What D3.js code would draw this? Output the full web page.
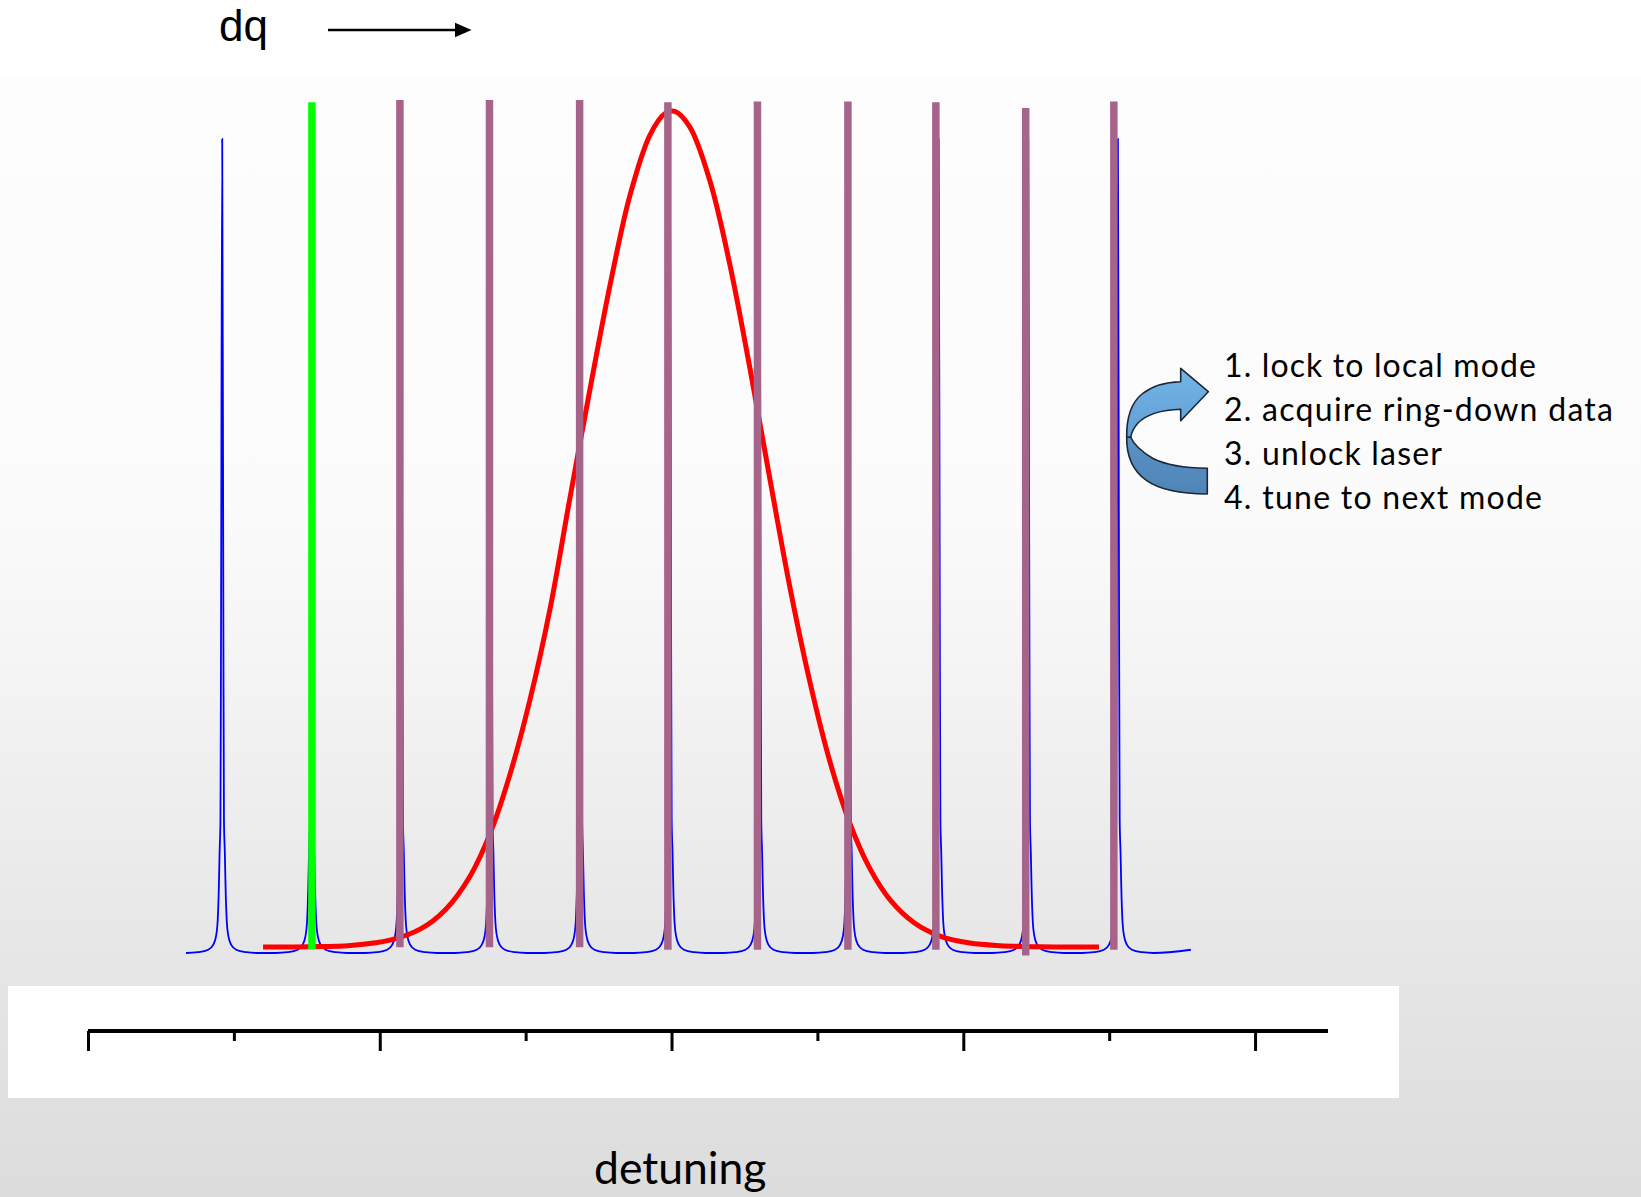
<!DOCTYPE html>
<html>
<head>
<meta charset="utf-8">
<script src="https://cdn.jsdelivr.net/npm/d3@7"></script>
<style>
  html, body { margin: 0; padding: 0; background: #ffffff; }
  svg { display: block; }
</style>
</head>
<body>
<script>
// ---- Cavity transmission comb (detuning units, peak height normalised to 1) ----
const modeCenters = [-3.08, -2.467, -1.853, -1.239, -0.625, -0.011, 0.603, 1.217, 1.831, 2.445, 3.06];
// One resonance line shape: offset from line centre and relative height
const profileOffsets = [-0.245, -0.165, -0.096, -0.062, -0.043, -0.031, -0.023, -0.018, -0.012, -0.008, 0,
                        0.008, 0.012, 0.018, 0.023, 0.031, 0.043, 0.062, 0.096, 0.165, 0.245];
const profileValues  = [0, 0.001, 0.004, 0.010, 0.020, 0.040, 0.081, 0.123, 0.163, 0.40, 1.0,
                        0.40, 0.163, 0.123, 0.081, 0.040, 0.020, 0.010, 0.004, 0.001, 0];
const traceStart = [-3.328, 0.0];
const traceEnd   = [3.56, 0.004];

// ---- Laser locked to successive modes ----
const firstLock = { x: -2.465, top: 1.045, bottom: 0.0045 };
const lockCenters = [-1.862, -1.248, -0.630, -0.025, 0.589, 1.209, 1.812, 2.428, 3.032];
const lockTops    = [1.048, 1.048, 1.048, 1.045, 1.046, 1.046, 1.045, 1.038, 1.046];
const lockBottoms = [0.007, 0.007, 0.007, 0.004, 0.004, 0.004, 0.004, -0.003, 0.004];

// ---- Absorption line profile ----
const lineX = [-2.80, -2.48, -2.20, -1.93, -1.72, -1.55, -1.38, -1.245, -1.11, -0.97, -0.83, -0.70, -0.56,
               -0.42, -0.285, -0.148, -0.045, 0.023, 0.126, 0.263, 0.40, 0.537, 0.674, 0.81, 0.949,
               1.086, 1.223, 1.36, 1.497, 1.668, 1.84, 2.045, 2.251, 2.525, 2.93];
const lineY = [0.0074, 0.0077, 0.0093, 0.0158, 0.0296, 0.0532, 0.0947, 0.1463, 0.2179, 0.3114, 0.4254,
               0.5554, 0.6916, 0.8218, 0.9307, 1.0048, 1.0313, 1.0338, 1.0145, 0.9486, 0.8456, 0.7187,
               0.5826, 0.4505, 0.3326, 0.2349, 0.159, 0.1036, 0.0656, 0.0365, 0.0208, 0.0122, 0.009,
               0.0076, 0.0074];

// ---- Detuning axis ----
const majorTicks = [-4, -2, 0, 2, 4];
const minorTicks = [-3, -1, 1, 3];

const steps = ["1. lock to local mode", "2. acquire ring-down data", "3. unlock laser", "4. tune to next mode"];
const stepWidths = [312, 389, 218, 318];

const W = 1641, H = 1197;
const svg = d3.select("body").append("svg").attr("width", W).attr("height", H);

const x = d3.scaleLinear().domain([-4, 4.5]).range([88, 1328]);
const y = d3.scaleLinear().domain([0, 1]).range([953, 139]);

// background
const defs = svg.append("defs");
const bg = defs.append("linearGradient").attr("id", "bg").attr("x1", 0).attr("y1", 0).attr("x2", 0).attr("y2", 1);
[[0, "#fdfdfd"], [0.38, "#fbfbfb"], [0.55, "#f3f3f3"], [0.75, "#e8e8e8"], [1, "#dcdcdc"]]
  .forEach(([o, c]) => bg.append("stop").attr("offset", o).attr("stop-color", c));
svg.append("rect").attr("width", W).attr("height", H).attr("fill", "#ffffff");
svg.append("rect").attr("y", 77).attr("width", W).attr("height", H - 77).attr("fill", "url(#bg)");

// axis panel
svg.append("rect").attr("x", 8).attr("y", 986).attr("width", 1391).attr("height", 112).attr("fill", "#ffffff");

const axisY = 1031;
const gMajor = svg.append("g").attr("transform", `translate(0,${axisY})`)
  .call(d3.axisBottom(x).tickValues(majorTicks).tickSize(20).tickSizeOuter(0).tickFormat(""));
const gMinor = svg.append("g").attr("transform", `translate(0,${axisY})`)
  .call(d3.axisBottom(x).tickValues(minorTicks).tickSize(10).tickSizeOuter(0).tickFormat(""));
gMinor.select(".domain").remove();
[gMajor, gMinor].forEach(g => g.selectAll(".tick line").attr("stroke", "#000").attr("stroke-width", 3));
gMajor.select(".domain").attr("stroke", "#000").attr("stroke-width", 4)
  .attr("d", `M${x(-4)},0H${x(4.5)}`);

// transmission comb trace
const tracePts = [traceStart];
modeCenters.forEach(c => profileOffsets.forEach((o, i) => {
  const px = c + o;
  if (px >= traceStart[0] && px <= traceEnd[0]) tracePts.push([px, profileValues[i]]);
}));
tracePts.push(traceEnd);
svg.append("path")
  .attr("d", d3.line().x(d => x(d[0])).y(d => y(d[1])).curve(d3.curveMonotoneX)(tracePts))
  .attr("fill", "none").attr("stroke", "#0000ff").attr("stroke-width", 1.8);

// absorption profile
svg.append("path")
  .attr("d", d3.line().x((d, i) => x(lineX[i])).y(d => y(d)).curve(d3.curveCatmullRom)(lineY))
  .attr("fill", "none").attr("stroke", "#ff0000").attr("stroke-width", 5);

// successive lock positions
svg.append("g").selectAll("line").data(lockCenters).join("line")
  .attr("x1", d => x(d)).attr("x2", d => x(d))
  .attr("y1", (d, i) => y(lockBottoms[i])).attr("y2", (d, i) => y(lockTops[i]))
  .attr("stroke", "#a6648a").attr("stroke-width", 7.5);

svg.append("line")
  .attr("x1", x(firstLock.x)).attr("x2", x(firstLock.x))
  .attr("y1", y(firstLock.bottom)).attr("y2", y(firstLock.top))
  .attr("stroke", "#00ff00").attr("stroke-width", 7.5);

// dq label and direction arrow
svg.append("text").attr("x", 219).attr("y", 41)
  .style("font-family", "'Liberation Sans', Arial, sans-serif").style("font-size", "44px")
  .attr("fill", "#000").text("dq");
svg.append("line").attr("x1", 328).attr("x2", 458).attr("y1", 30).attr("y2", 30)
  .attr("stroke", "#000").attr("stroke-width", 2.4);
svg.append("path").attr("d", "M455,22.7L471.5,30L455,37.3Z").attr("fill", "#000");

// loop arrow beside the procedure
const loop = svg.append("g").attr("stroke", "#1c2838").attr("stroke-width", 1.6).attr("stroke-linejoin", "round");
const upGrad = defs.append("linearGradient").attr("id", "upband").attr("x1", 0).attr("y1", 0).attr("x2", 0).attr("y2", 1);
upGrad.append("stop").attr("offset", 0).attr("stop-color", "#74b4e4");
upGrad.append("stop").attr("offset", 1).attr("stop-color", "#5f9fd6");
const loGrad = defs.append("linearGradient").attr("id", "loband").attr("x1", 0).attr("y1", 0).attr("x2", 0).attr("y2", 1);
loGrad.append("stop").attr("offset", 0).attr("stop-color", "#5a93c6");
loGrad.append("stop").attr("offset", 1).attr("stop-color", "#4f84b6");
loop.append("path").attr("fill", "url(#loband)")
  .attr("d", "M1126.7,436.7 C1126.3,455 1133,471 1146.7,480.7 C1160,490 1180,494 1207.3,494 L1207.3,468.3 " +
             "C1185,468 1166,465 1153,458.5 C1142,452 1134,445 1130.7,437.3 Z");
loop.append("path").attr("fill", "url(#upband)")
  .attr("d", "M1126.7,436.7 C1126.5,418 1131,403 1142,394 C1152,386 1165,382 1180.7,381.7 L1180.7,368.3 " +
             "L1208.3,391.7 L1180.7,420.7 L1180.7,409.3 C1160,410 1146,415 1138,423 C1134,427.5 1131.5,432 1130.7,437.3 Z");

// procedure text
svg.append("g").selectAll("text").data(steps).join("text")
  .attr("x", 1224).attr("y", (d, i) => 376.5 + i * 44)
  .attr("textLength", (d, i) => stepWidths[i]).attr("lengthAdjust", "spacing")
  .style("font-family", "Lato, 'Open Sans', sans-serif").style("font-size", "32px")
  .attr("fill", "#000").text(d => d);

// axis title
svg.append("text").attr("x", 594).attr("y", 1184)
  .style("font-family", "Lato, 'Open Sans', sans-serif").style("font-size", "44.5px")
  .attr("fill", "#000").text("detuning");
</script>
</body>
</html>
